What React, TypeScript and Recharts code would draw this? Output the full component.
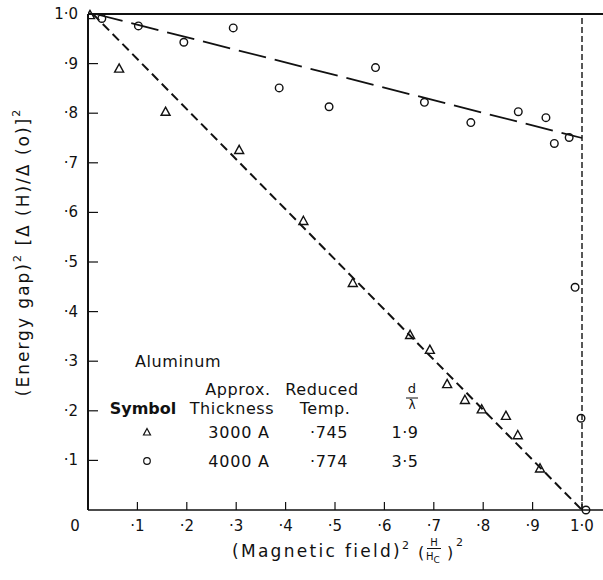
import React from 'react';
import { ComposedChart, XAxis, YAxis, Scatter, Line, ReferenceLine } from 'recharts';

const xTicks = [0, 0.1, 0.2, 0.3, 0.4, 0.5, 0.6, 0.7, 0.8, 0.9, 1.0];
const xTickLabels = ['0', '·1', '·2', '·3', '·4', '·5', '·6', '·7', '·8', '·9', '1·0'];
const yTicks = [0.1, 0.2, 0.3, 0.4, 0.5, 0.6, 0.7, 0.8, 0.9, 1.0];
const yTickLabels = ['·1', '·2', '·3', '·4', '·5', '·6', '·7', '·8', '·9', '1·0'];
const xMax = 1.0425;

// 3000 A film (triangles)
const triangles3000 = [
  { x: 0.004, y: 0.998 },
  { x: 0.063, y: 0.89 },
  { x: 0.157, y: 0.803 },
  { x: 0.306, y: 0.726 },
  { x: 0.436, y: 0.583 },
  { x: 0.536, y: 0.458 },
  { x: 0.652, y: 0.353 },
  { x: 0.692, y: 0.323 },
  { x: 0.727, y: 0.254 },
  { x: 0.763, y: 0.222 },
  { x: 0.797, y: 0.203 },
  { x: 0.846, y: 0.19 },
  { x: 0.87, y: 0.151 },
  { x: 0.915, y: 0.084 },
];

// 4000 A film (circles)
const circles4000 = [
  { x: 0.028, y: 0.991 },
  { x: 0.102, y: 0.976 },
  { x: 0.194, y: 0.943 },
  { x: 0.294, y: 0.972 },
  { x: 0.387, y: 0.851 },
  { x: 0.488, y: 0.813 },
  { x: 0.582, y: 0.892 },
  { x: 0.681, y: 0.822 },
  { x: 0.775, y: 0.781 },
  { x: 0.871, y: 0.803 },
  { x: 0.927, y: 0.791 },
  { x: 0.944, y: 0.739 },
  { x: 0.974, y: 0.751 },
  { x: 0.986, y: 0.449 },
  { x: 0.998, y: 0.185 },
  { x: 1.008, y: 0.0 },
];

const fitTriangle = [
  { x: 0.01, y: 1.0 },
  { x: 1.0, y: 0.0 },
];
const fitCircle = [
  { x: 0.015, y: 1.0 },
  { x: 1.0, y: 0.75 },
];

const INK = '#111';
const FONT = '"DejaVu Sans", sans-serif';

const TriangleShape = (p: any) => {
  const { cx, cy } = p;
  if (cx == null || cy == null) return null;
  const w = 4.5;
  return (
    <path
      d={`M${cx},${cy - 4.6} L${cx + w},${cy + 3.6} L${cx - w},${cy + 3.6} Z`}
      fill="none"
      stroke={INK}
      strokeWidth={1.4}
    />
  );
};

const CircleShape = (p: any) => {
  const { cx, cy } = p;
  if (cx == null || cy == null) return null;
  return <circle cx={cx} cy={cy} r={3.8} fill="none" stroke={INK} strokeWidth={1.4} />;
};

const XTick = (props: any) => {
  const { x, y, payload } = props;
  const i = xTicks.indexOf(payload.value);
  const label = i >= 0 ? xTickLabels[i] : '';
  return (
    <g>
      {i > 0 && <line x1={x} y1={y} x2={x} y2={y - 8} stroke={INK} strokeWidth={1.2} />}
      <text
        x={i === 0 ? x - 13 : x}
        y={y + 16}
        textAnchor="middle"
        dominantBaseline="central"
        fontFamily={FONT}
        fontSize={15}
        fill={INK}
      >
        {label}
      </text>
    </g>
  );
};

const YTick = (props: any) => {
  const { x, y, payload } = props;
  const i = yTicks.indexOf(payload.value);
  const label = i >= 0 ? yTickLabels[i] : '';
  return (
    <g>
      {payload.value < 1 && <line x1={x} y1={y} x2={x + 10} y2={y} stroke={INK} strokeWidth={1.2} />}
      <text
        x={x - 10}
        y={y}
        textAnchor="end"
        dominantBaseline="central"
        fontFamily={FONT}
        fontSize={15}
        fill={INK}
      >
        {label}
      </text>
    </g>
  );
};

const txt = { fontFamily: FONT, fill: INK } as const;

const Overlay = () => (
  <svg
    width={603}
    height={580}
    style={{ position: 'absolute', left: 0, top: 0, pointerEvents: 'none' }}
  >
    {/* Y axis label */}
    <text
      {...txt}
      fontSize={17}
      letterSpacing={2}
      textAnchor="middle"
      transform="translate(29,252) rotate(-90)"
    >
      (Energy gap)
      <tspan fontSize={11} dy={-8}>2</tspan>
      <tspan dy={8}> [Δ (H)/Δ (o)]</tspan>
      <tspan fontSize={11} dy={-9}>2</tspan>
    </text>

    {/* X axis label */}
    <text {...txt} fontSize={17} letterSpacing={2.3} x={232} y={557}>
      (Magnetic field)
      <tspan fontSize={11} dy={-8}>2</tspan>
    </text>
    <text {...txt} fontSize={16} x={418} y={558}>(</text>
    <text {...txt} fontSize={10} x={434} y={546} textAnchor="middle">H</text>
    <line x1={427} y1={548.5} x2={441} y2={548.5} stroke={INK} strokeWidth={1} />
    <text {...txt} fontSize={10} x={433} y={560} textAnchor="middle">
      H<tspan fontSize={9} dy={3}>C</tspan>
    </text>
    <text {...txt} fontSize={16} x={447} y={558}>)</text>
    <text {...txt} fontSize={11} x={456} y={546}>2</text>

    {/* Legend table */}
    <text {...txt} fontSize={16} letterSpacing={0.6} x={135} y={367}>Aluminum</text>
    <text {...txt} fontSize={16} letterSpacing={0.6} x={238} y={395} textAnchor="middle">Approx.</text>
    <text {...txt} fontSize={16} letterSpacing={0.6} x={322} y={395} textAnchor="middle">Reduced</text>
    <text {...txt} fontSize={13} x={412} y={393} textAnchor="middle">d</text>
    <line x1={406} y1={398} x2={418} y2={398} stroke={INK} strokeWidth={1} />
    <text {...txt} fontSize={12} x={412} y={409} textAnchor="middle">λ</text>

    <text {...txt} fontSize={16} fontWeight="bold" x={143} y={414} textAnchor="middle">Symbol</text>
    <text {...txt} fontSize={16} letterSpacing={0.6} x={232} y={414} textAnchor="middle">Thickness</text>
    <text {...txt} fontSize={16} letterSpacing={0.6} x={325} y={414} textAnchor="middle">Temp.</text>

    <path d="M147,428.5 L150.5,435 L143.5,435 Z" fill="none" stroke={INK} strokeWidth={1.2} />
    <text {...txt} fontSize={16} letterSpacing={0.8} x={239} y={438} textAnchor="middle">3000 A</text>
    <text {...txt} fontSize={16} letterSpacing={0.6} x={329} y={438} textAnchor="middle">·745</text>
    <text {...txt} fontSize={16} letterSpacing={0.6} x={405} y={438} textAnchor="middle">1·9</text>

    <circle cx={147} cy={461} r={3.3} fill="none" stroke={INK} strokeWidth={1.2} />
    <text {...txt} fontSize={16} letterSpacing={0.8} x={239} y={467} textAnchor="middle">4000 A</text>
    <text {...txt} fontSize={16} letterSpacing={0.6} x={329} y={467} textAnchor="middle">·774</text>
    <text {...txt} fontSize={16} letterSpacing={0.6} x={405} y={467} textAnchor="middle">3·5</text>
  </svg>
);

export default function App() {
  return (
    <div style={{ position: 'absolute', left: 0, top: 0, width: 603, height: 580, background: '#fff' }}>
      <ComposedChart
        width={603}
        height={580}
        margin={{ top: 14, right: 0, bottom: 40, left: 0 }}
      >
        <XAxis
          dataKey="x"
          type="number"
          domain={[0, xMax]}
          ticks={xTicks}
          interval={0}
          allowDataOverflow
          height={30}
          tickSize={0}
          tickMargin={0}
          tickLine={false}
          axisLine={{ stroke: INK, strokeWidth: 1.6 }}
          tick={<XTick />}
        />
        <YAxis
          dataKey="y"
          type="number"
          domain={[0, 1]}
          ticks={yTicks}
          interval={0}
          width={88}
          tickSize={0}
          tickMargin={0}
          tickLine={false}
          axisLine={{ stroke: INK, strokeWidth: 2 }}
          tick={<YTick />}
        />
        <ReferenceLine y={1} stroke={INK} strokeWidth={2} />
        <ReferenceLine x={1} stroke={INK} strokeWidth={1.4} strokeDasharray="6 3" />
        <Line
          data={fitCircle}
          dataKey="y"
          type="linear"
          stroke={INK}
          strokeWidth={1.8}
          strokeDasharray="28 9"
          dot={false}
          activeDot={false}
          isAnimationActive={false}
        />
        <Line
          data={fitTriangle}
          dataKey="y"
          type="linear"
          stroke={INK}
          strokeWidth={2}
          strokeDasharray="9 5"
          dot={false}
          activeDot={false}
          isAnimationActive={false}
        />
        <Scatter data={triangles3000} dataKey="y" shape={<TriangleShape />} isAnimationActive={false} />
        <Scatter data={circles4000} dataKey="y" shape={<CircleShape />} isAnimationActive={false} />
      </ComposedChart>
      <Overlay />
    </div>
  );
}
